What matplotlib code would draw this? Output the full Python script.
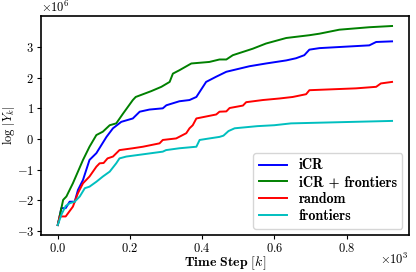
import matplotlib
matplotlib.use("Agg")
import matplotlib.pyplot as plt
from matplotlib.ticker import ScalarFormatter

plt.rcParams['mathtext.fontset'] = 'cm'
plt.rcParams['font.family'] = 'serif'
plt.rcParams['font.serif'] = ['cmr10']
plt.rcParams['axes.formatter.use_mathtext'] = True
plt.rcParams['axes.unicode_minus'] = False

# time steps and log|Y_k| values (in millions)
icr_x = [0, 10, 22, 33, 47, 56, 70, 88, 107, 135, 153, 176, 208, 227, 254, 291, 301, 337,
         365, 384, 411, 439, 467, 531, 577, 633, 660, 683, 697, 725, 817, 863, 882, 926]
icr_y = [-2.80, -2.25, -2.25, -2.04, -2.04, -1.66, -1.33, -0.68, -0.46, 0.07, 0.35, 0.56,
         0.67, 0.89, 0.96, 1.00, 1.10, 1.23, 1.27, 1.37, 1.86, 2.03, 2.19, 2.37, 2.46, 2.56,
         2.63, 2.73, 2.91, 2.96, 3.02, 3.05, 3.16, 3.18]

icrf_x = [0, 15, 24, 42, 70, 88, 107, 125, 144, 162, 181, 208, 216, 259, 287, 310, 319, 337,
          370, 420, 448, 467, 485, 540, 577, 633, 697, 725, 780, 863, 926]
icrf_y = [-2.80, -1.98, -1.87, -1.44, -0.68, -0.25, 0.13, 0.24, 0.45, 0.51, 0.83, 1.27, 1.37,
          1.56, 1.70, 1.86, 2.13, 2.24, 2.46, 2.51, 2.59, 2.59, 2.73, 2.94, 3.11, 3.29, 3.38,
          3.43, 3.56, 3.64, 3.68]

rand_x = [0, 6, 22, 42, 56, 70, 88, 107, 116, 127, 138, 153, 171, 208, 236, 282, 291, 328,
          356, 365, 374, 384, 439, 448, 467, 476, 513, 522, 568, 614, 651, 688, 697, 826,
          882, 895, 926]
rand_y = [-2.80, -2.52, -2.52, -2.20, -1.76, -1.44, -1.22, -0.90, -0.79, -0.78, -0.63, -0.57,
          -0.36, -0.30, -0.25, -0.14, -0.03, 0.02, 0.19, 0.35, 0.45, 0.67, 0.80, 0.89, 0.90,
          1.01, 1.09, 1.20, 1.27, 1.32, 1.37, 1.46, 1.59, 1.65, 1.70, 1.81, 1.86]

front_x = [0, 11, 22, 33, 47, 61, 75, 88, 107, 125, 144, 162, 171, 190, 291, 300, 337, 384,
           393, 420, 448, 459, 473, 490, 553, 600, 646, 926]
front_y = [-2.80, -2.44, -2.18, -2.09, -2.04, -1.87, -1.60, -1.55, -1.39, -1.22, -1.06,
           -0.79, -0.63, -0.57, -0.41, -0.36, -0.30, -0.25, -0.03, 0.02, 0.07, 0.11, 0.26,
           0.35, 0.42, 0.45, 0.51, 0.59]

series = [
    (icr_x, icr_y, 'b', 'iCR'),
    (icrf_x, icrf_y, 'g', 'iCR + frontiers'),
    (rand_x, rand_y, 'r', 'random'),
    (front_x, front_y, 'c', 'frontiers'),
]

fig = plt.figure(figsize=(4.16, 2.72), dpi=100)
ax = fig.add_axes([0.0986, 0.136, 0.884, 0.805])

for xs, ys, col, lab in series:
    ax.plot(xs, [v * 1e6 for v in ys], color=col, lw=1.4, label=lab)

ax.set_xticks([0, 200, 400, 600, 800])
ax.set_yticks([-3e6, -2e6, -1e6, 0, 1e6, 2e6, 3e6])
for axis, p in ((ax.xaxis, 3), (ax.yaxis, 6)):
    fmt = ScalarFormatter(useMathText=True)
    fmt.set_powerlimits((p, p))
    axis.set_major_formatter(fmt)
ax.tick_params(labelsize=9, length=3, width=0.8, pad=2)
ax.yaxis.get_offset_text().set_fontsize(9)
# x offset drawn by hand so it sits beside the axis label like in the reference
ax.xaxis.get_offset_text().set_visible(False)
ax.text(1.0, -0.075, r'$\times10^{3}$', transform=ax.transAxes, ha='right', va='top',
        fontsize=9)

for s in ax.spines.values():
    s.set_linewidth(1.2)

ax.set_xlabel(r'$\mathbf{Time\ Step}\ [k]$', fontsize=10, labelpad=0)
ax.set_ylabel(r'$\log\,|Y_k|$', fontsize=9, labelpad=0)

ax.legend(loc='lower right', prop={'family': 'cmb10', 'size': 10.2},
          handlelength=2.0, labelspacing=0.2, borderaxespad=0.45)

fig.savefig('out.png', dpi=100)
